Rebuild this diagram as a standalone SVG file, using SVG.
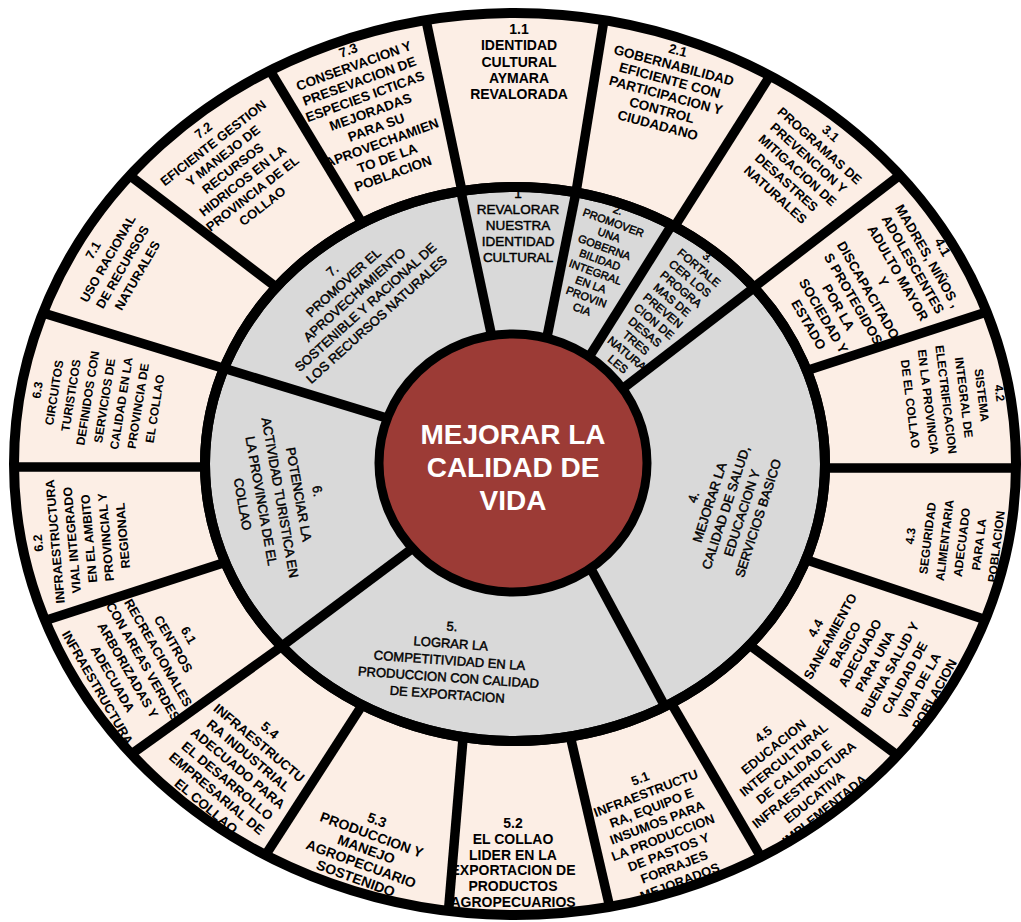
<svg xmlns="http://www.w3.org/2000/svg" width="1021" height="922" viewBox="0 0 1021 922">
<style>
.o{font-family:"Liberation Sans",Arial,sans-serif;font-weight:bold;text-anchor:middle;fill:#000}
.i{font-family:"Liberation Sans",Arial,sans-serif;font-weight:normal;text-anchor:middle;fill:#000;stroke:#000;stroke-width:0.45}
.c{font-family:"Liberation Sans",Arial,sans-serif;font-weight:bold;text-anchor:middle;fill:#fff;font-size:28px}
.sep line{stroke:#000;stroke-width:9.5}
</style>
<defs>
<clipPath id="cOuter"><ellipse cx="515" cy="464" rx="501" ry="451"/></clipPath>
<clipPath id="cGray"><ellipse cx="515" cy="464" rx="310" ry="277"/></clipPath>
</defs>
<rect width="1021" height="922" fill="#fff"/>
<ellipse cx="515" cy="464" rx="501" ry="451" fill="#FCEEE5"/>
<g id="connectors">
<g class="sep" clip-path="url(#cOuter)">
<line x1="467" y1="215" x2="422" y2="1"/>
<line x1="572" y1="217" x2="607" y2="1"/>
<line x1="666" y1="240" x2="780" y2="60"/>
<line x1="736" y1="301" x2="917" y2="162"/>
<line x1="784" y1="378" x2="1008" y2="305"/>
<line x1="790" y1="468" x2="1030" y2="468"/>
<line x1="783" y1="552" x2="1013" y2="629"/>
<line x1="732" y1="632" x2="921" y2="773"/>
<line x1="663" y1="689" x2="768" y2="869"/>
<line x1="566" y1="718" x2="616" y2="934"/>
<line x1="465" y1="715" x2="446" y2="940"/>
<line x1="370" y1="693" x2="254" y2="873"/>
<line x1="306" y1="629" x2="112" y2="768"/>
<line x1="251" y1="554" x2="22" y2="628"/>
<line x1="240" y1="467" x2="0" y2="467"/>
<line x1="255" y1="378" x2="17" y2="305"/>
<line x1="301" y1="306" x2="112" y2="162"/>
<line x1="374" y1="243" x2="260" y2="54"/>
</g>
<ellipse cx="515" cy="464" rx="310" ry="277" fill="#D9D9D9" stroke="#000" stroke-width="10"/>
<g class="sep" clip-path="url(#cGray)">
<line x1="497" y1="361" x2="450" y2="140"/>
<line x1="541" y1="367" x2="583" y2="157"/>
<line x1="574" y1="381" x2="690" y2="196"/>
<line x1="604" y1="403" x2="786" y2="263"/>
<line x1="584" y1="556" x2="682" y2="738"/>
<line x1="437" y1="530" x2="250" y2="670"/>
<line x1="416" y1="427" x2="190" y2="358"/>
</g>
</g>
<ellipse cx="515" cy="464" rx="310" ry="277" fill="none" stroke="#000" stroke-width="10"/>
<g id="center">
<ellipse cx="513" cy="463" rx="134" ry="129" fill="#9C3B36" stroke="#000" stroke-width="9"/>
<text class="c"><tspan x="513" y="444">MEJORAR LA</tspan><tspan x="513" y="477">CALIDAD DE</tspan><tspan x="513" y="510">VIDA</tspan></text>
</g>

<g id="obj-1"><text class="i" font-size="13.5" transform="translate(518,193)"><tspan x="0" y="5">1</tspan><tspan x="0" dy="16">REVALORAR</tspan><tspan x="0" dy="16">NUESTRA</tspan><tspan x="0" dy="16">IDENTIDAD</tspan><tspan x="0" dy="16">CULTURAL</tspan></text></g>
<g id="obj-2"><text class="i" font-size="11" transform="translate(618,210) rotate(20)"><tspan x="0" y="4">2.</tspan><tspan x="0" dy="13.2">PROMOVER</tspan><tspan x="0" dy="13.2">UNA</tspan><tspan x="0" dy="13.2">GOBERNA</tspan><tspan x="0" dy="13.2">BILIDAD</tspan><tspan x="0" dy="13.2">INTEGRAL</tspan><tspan x="0" dy="13.2">EN LA</tspan><tspan x="0" dy="13.2">PROVIN</tspan><tspan x="0" dy="13.2">CIA</tspan></text></g>
<g id="obj-3"><text class="i" font-size="11.5" transform="translate(708,257) rotate(40)"><tspan x="0" y="4">3.</tspan><tspan x="0" dy="14">FORTALE</tspan><tspan x="0" dy="14">CER LOS</tspan><tspan x="0" dy="14">PROGRA</tspan><tspan x="0" dy="14">MAS DE</tspan><tspan x="0" dy="14">PREVEN</tspan><tspan x="0" dy="14">CION DE</tspan><tspan x="0" dy="14">DESAS</tspan><tspan x="0" dy="14">TRES</tspan><tspan x="0" dy="14">NATURA</tspan><tspan x="0" dy="14">LES</tspan></text></g>
<g id="obj-4"><text class="i" font-size="13" transform="translate(693,497) rotate(-72)"><tspan x="0" y="5">4.</tspan><tspan x="0" dy="17">MEJORAR LA</tspan><tspan x="0" dy="17">CALIDAD DE SALUD,</tspan><tspan x="0" dy="17">EDUCACION Y</tspan><tspan x="0" dy="17">SERVICIOS BASICO</tspan></text></g>
<g id="obj-5"><text class="i" font-size="13" transform="translate(452,626) rotate(4)"><tspan x="0" y="5">5.</tspan><tspan x="0" dy="17">LOGRAR  LA</tspan><tspan x="0" dy="17">COMPETITIVIDAD  EN LA</tspan><tspan x="0" dy="17">PRODUCCION CON CALIDAD</tspan><tspan x="0" dy="17">DE EXPORTACION</tspan></text></g>
<g id="obj-6"><text class="i" font-size="13" transform="translate(318,491) rotate(80)"><tspan x="0" y="5">6.</tspan><tspan x="0" dy="19">POTENCIAR LA</tspan><tspan x="0" dy="19">ACTIVIDAD TURISTICA EN</tspan><tspan x="0" dy="19">LA PROVINCIA DE EL</tspan><tspan x="0" dy="19">COLLAO</tspan></text></g>
<g id="obj-7"><text class="i" font-size="13" transform="translate(332,270) rotate(-42)"><tspan x="0" y="5">7.</tspan><tspan x="0" dy="16.5">PROMOVER EL</tspan><tspan x="0" dy="16.5">APROVECHAMIENTO</tspan><tspan x="0" dy="16.5">SOSTENIBLE Y RACIONAL DE</tspan><tspan x="0" dy="16.5">LOS RECURSOS NATURALES</tspan></text></g>

<g id="res-1-1"><text class="o" font-size="14" transform="translate(519,29)"><tspan x="0" y="5">1.1</tspan><tspan x="0" dy="16.3">IDENTIDAD</tspan><tspan x="0" dy="16.3">CULTURAL</tspan><tspan x="0" dy="16.3">AYMARA</tspan><tspan x="0" dy="16.3">REVALORADA</tspan></text></g>
<g id="res-2-1"><text class="o" font-size="13.5" transform="translate(678,50) rotate(15)"><tspan x="0" y="5">2.1</tspan><tspan x="0" dy="15.5">GOBERNABILIDAD</tspan><tspan x="0" dy="15.5">EFICIENTE CON</tspan><tspan x="0" dy="15.5">PARTICIPACION Y</tspan><tspan x="0" dy="15.5">CONTROL</tspan><tspan x="0" dy="15.5">CIUDADANO</tspan></text></g>
<g id="res-3-1"><text class="o" font-size="13" transform="translate(831,133) rotate(42)"><tspan x="0" y="5">3.1</tspan><tspan x="0" dy="16.5">PROGRAMAS DE</tspan><tspan x="0" dy="16.5">PREVENCION Y</tspan><tspan x="0" dy="16.5">MITIGACION DE</tspan><tspan x="0" dy="16.5">DESASTRES</tspan><tspan x="0" dy="16.5">NATURALES</tspan></text></g>
<g id="res-4-1"><text class="o" font-size="13.5" transform="translate(943,247) rotate(60)"><tspan x="0" y="5">4.1</tspan><tspan x="0" dy="17.2">MADRES, NIÑOS ,</tspan><tspan x="0" dy="17.2">ADOLESCENTES</tspan><tspan x="0" dy="17.2">ADULTO  MAYOR</tspan><tspan x="0" dy="17.2">Y</tspan><tspan x="0" dy="17.2">DISCAPACITADO</tspan><tspan x="0" dy="17.2">S PROTEGIDOS</tspan><tspan x="0" dy="17.2">POR LA</tspan><tspan x="0" dy="17.2">SOCIEDAD Y</tspan><tspan x="0" dy="17.2">ESTADO</tspan></text></g>
<g id="res-4-2"><text class="o" font-size="12" transform="translate(1000,393) rotate(83)"><tspan x="0" y="4.5">4.2</tspan><tspan x="0" dy="18">SISTEMA</tspan><tspan x="0" dy="18">INTEGRAL DE</tspan><tspan x="0" dy="18">ELECTRIFICACION</tspan><tspan x="0" dy="18">EN LA PROVINCIA</tspan><tspan x="0" dy="18">DE EL COLLAO</tspan></text></g>
<g id="res-4-3"><text class="o" font-size="12" transform="translate(910,536) rotate(-83)"><tspan x="0" y="4.5">4.3</tspan><tspan x="0" dy="17.3">SEGURIDAD</tspan><tspan x="0" dy="17.3">ALIMENTARIA</tspan><tspan x="0" dy="17.3">ADECUADO</tspan><tspan x="0" dy="17.3">PARA LA</tspan><tspan x="0" dy="17.3">POBLACION</tspan></text></g>
<g id="res-4-4"><text class="o" font-size="13" transform="translate(815,628) rotate(-61)"><tspan x="0" y="5">4.4</tspan><tspan x="0" dy="17">SANEAMIENTO</tspan><tspan x="0" dy="17">BASICO</tspan><tspan x="0" dy="17">ADECUADO</tspan><tspan x="0" dy="17">PARA UNA</tspan><tspan x="0" dy="17">BUENA SALUD Y</tspan><tspan x="0" dy="17">CALIDAD DE</tspan><tspan x="0" dy="17">VIDA DE LA</tspan><tspan x="0" dy="17">POBLACION</tspan></text></g>
<g id="res-4-5"><text class="o" font-size="13" transform="translate(763,734) rotate(-39)"><tspan x="0" y="5">4.5</tspan><tspan x="0" dy="16.2">EDUCACION</tspan><tspan x="0" dy="16.2">INTERCULTURAL</tspan><tspan x="0" dy="16.2">DE CALIDAD E</tspan><tspan x="0" dy="16.2">INFRAESTRUCTURA</tspan><tspan x="0" dy="16.2">EDUCATIVA</tspan><tspan x="0" dy="16.2">IMPLEMENTADA</tspan></text></g>
<g id="res-5-1"><text class="o" font-size="13" transform="translate(640,778) rotate(-21)"><tspan x="0" y="5">5.1</tspan><tspan x="0" dy="15.8">INFRAESTRUCTU</tspan><tspan x="0" dy="15.8">RA, EQUIPO E</tspan><tspan x="0" dy="15.8">INSUMOS PARA</tspan><tspan x="0" dy="15.8">LA PRODUCCION</tspan><tspan x="0" dy="15.8">DE PASTOS Y</tspan><tspan x="0" dy="15.8">FORRAJES</tspan><tspan x="0" dy="15.8">MEJORADOS</tspan></text></g>
<g id="res-5-2"><text class="o" font-size="14" transform="translate(513,823)"><tspan x="0" y="5">5.2</tspan><tspan x="0" dy="15.8">EL COLLAO</tspan><tspan x="0" dy="15.8">LIDER EN LA</tspan><tspan x="0" dy="15.8">EXPORTACION DE</tspan><tspan x="0" dy="15.8">PRODUCTOS</tspan><tspan x="0" dy="15.8">AGROPECUARIOS</tspan></text></g>
<g id="res-5-3"><text class="o" font-size="14" transform="translate(377,820) rotate(20)"><tspan x="0" y="5">5.3</tspan><tspan x="0" dy="15.5">PRODUCCION Y</tspan><tspan x="0" dy="15.5">MANEJO</tspan><tspan x="0" dy="15.5">AGROPECUARIO</tspan><tspan x="0" dy="15.5">SOSTENIDO</tspan></text></g>
<g id="res-5-4"><text class="o" font-size="13.4" transform="translate(270,730) rotate(40)"><tspan x="0" y="5">5.4</tspan><tspan x="0" dy="16.5">INFRAESTRUCTU</tspan><tspan x="0" dy="16.5">RA INDUSTRIAL</tspan><tspan x="0" dy="16.5">ADECUADO PARA</tspan><tspan x="0" dy="16.5">EL DESARROLLO</tspan><tspan x="0" dy="16.5">EMPRESARIAL DE</tspan><tspan x="0" dy="16.5">EL COLLAO</tspan></text></g>
<g id="res-6-1"><text class="o" font-size="13" transform="translate(189,635) rotate(60)"><tspan x="0" y="5">6.1</tspan><tspan x="0" dy="17.5">CENTROS</tspan><tspan x="0" dy="17.5">RECREACIONALES</tspan><tspan x="0" dy="17.5">CON AREAS VERDES</tspan><tspan x="0" dy="17.5">ARBORIZADAS Y</tspan><tspan x="0" dy="17.5">ADECUADA</tspan><tspan x="0" dy="17.5">INFRAESTRUCTURA</tspan></text></g>
<g id="res-6-2"><text class="o" font-size="12.5" transform="translate(38,543) rotate(-95)"><tspan x="0" y="4.5">6.2</tspan><tspan x="0" dy="17">INFRAESTRUCTURA</tspan><tspan x="0" dy="17">VIAL INTEGRADO</tspan><tspan x="0" dy="17">EN EL AMBITO</tspan><tspan x="0" dy="17">PROVINCIAL Y</tspan><tspan x="0" dy="17">REGIONAL</tspan></text></g>
<g id="res-6-3"><text class="o" font-size="12" transform="translate(37,390) rotate(-81)"><tspan x="0" y="4.5">6.3</tspan><tspan x="0" dy="17">CIRCUITOS</tspan><tspan x="0" dy="17">TURISTICOS</tspan><tspan x="0" dy="17">DEFINIDOS CON</tspan><tspan x="0" dy="17">SERVICIOS DE</tspan><tspan x="0" dy="17">CALIDAD  EN LA</tspan><tspan x="0" dy="17">PROVINCIA DE</tspan><tspan x="0" dy="17">EL COLLAO</tspan></text></g>
<g id="res-7-1"><text class="o" font-size="12.7" transform="translate(93,250) rotate(-60)"><tspan x="0" y="4.5">7.1</tspan><tspan x="0" dy="17">USO RACIONAL</tspan><tspan x="0" dy="17">DE RECURSOS</tspan><tspan x="0" dy="17">NATURALES</tspan></text></g>
<g id="res-7-2"><text class="o" font-size="13" transform="translate(203,130) rotate(-38)"><tspan x="0" y="5">7.2</tspan><tspan x="0" dy="16">EFICIENTE GESTION</tspan><tspan x="0" dy="16">Y MANEJO DE</tspan><tspan x="0" dy="16">RECURSOS</tspan><tspan x="0" dy="16">HIDRICOS EN LA</tspan><tspan x="0" dy="16">PROVINCIA DE EL</tspan><tspan x="0" dy="16">COLLAO</tspan></text></g>
<g id="res-7-3"><text class="o" font-size="13.5" transform="translate(348,50) rotate(-20)"><tspan x="0" y="5">7.3</tspan><tspan x="0" dy="16.4">CONSERVACION Y</tspan><tspan x="0" dy="16.4">PRESEVACION DE</tspan><tspan x="0" dy="16.4">ESPECIES ICTICAS</tspan><tspan x="0" dy="16.4">MEJORADAS</tspan><tspan x="0" dy="16.4">PARA  SU</tspan><tspan x="0" dy="16.4">APROVECHAMIEN</tspan><tspan x="0" dy="16.4">TO DE LA</tspan><tspan x="0" dy="16.4">POBLACION</tspan></text></g>
<ellipse id="outer-rim" cx="515" cy="464" rx="501" ry="451" fill="none" stroke="#000" stroke-width="10"/>
</svg>
